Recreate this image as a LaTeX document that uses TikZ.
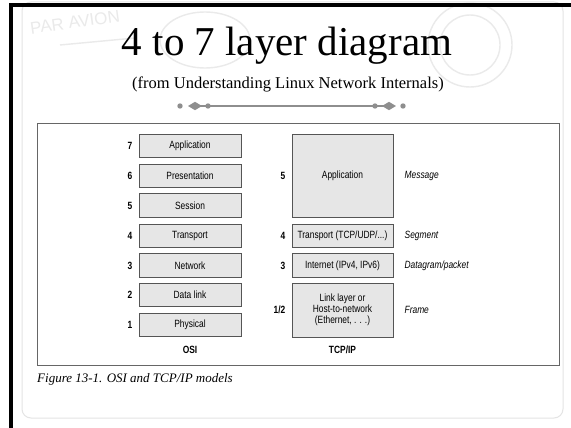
\documentclass[tikz,border=0pt]{standalone}
\usepackage{fontspec}
\setmainfont{Liberation Serif}
\newfontfamily\condsans[FakeStretch=0.8]{Liberation Sans}
\newfontfamily\stampfont{Liberation Sans}
\usetikzlibrary{shapes.geometric}

\definecolor{boxfill}{HTML}{E6E6E6}
\definecolor{boxline}{HTML}{555555}
\definecolor{framegray}{HTML}{666666}
\definecolor{ornament}{HTML}{8E8E8E}
\definecolor{pagegray}{HTML}{E4E4E4}
\definecolor{stampgray}{HTML}{EAEAEA}

\tikzset{
  layer/.style={draw=boxline, fill=boxfill, line width=0.9pt,
    minimum width=102pt, minimum height=23.5pt, inner sep=1pt,
    align=center, font=\condsans\fontsize{10.5}{11}\selectfont},
  num/.style={anchor=east, inner sep=0pt, font=\condsans\bfseries\fontsize{10.5}{11}\selectfont},
  unit/.style={anchor=west, inner sep=0pt, font=\condsans\itshape\fontsize{10.5}{11}\selectfont},
  model/.style={inner sep=0pt, font=\condsans\bfseries\fontsize{10.5}{11}\selectfont},
  dot/.style={circle, fill=ornament, inner sep=0pt, minimum size=5.4pt},
  gem/.style={diamond, fill=ornament, inner sep=0pt, minimum width=14pt, minimum height=8.5pt},
  stamp/.style={stampgray, line width=1.4pt},
}

\begin{document}
\begin{tikzpicture}[x=1pt, y=-1pt]
  \useasboundingbox (0,0) rectangle (571,428);
  \fill[white] (0,0) rectangle (571,428);

  % faint airmail postmarks behind the heading
  \node[stampgray, rotate=8, inner sep=0pt, font=\stampfont\fontsize{17}{17}\selectfont] (parav) at (75,22) {PAR AVION};
  \draw[stamp] (470,45) circle[radius=42pt];
  \draw[stamp] (470,45) circle[radius=30pt];
  \draw[stamp] (205,40) ellipse[x radius=45pt, y radius=28pt];
  \draw[stamp] (60,45) -- (135,38);

  % slide page outline and dark border
  \draw[pagegray, line width=1pt, rounded corners=9pt] (22,2) rectangle (563,418);
  \fill[black] (9,3) rectangle (571,7);
  \fill[black] (9,3) rectangle (13,428);

  % heading
  \node[inner sep=0pt, font=\fontsize{41}{45}\selectfont] (title) at (287,46) {4 to 7 layer diagram};
  \node[inner sep=0pt, font=\fontsize{16.5}{20}\selectfont] (subtitle) at (288,84) {(from Understanding Linux Network Internals)};

  % ornament rule under the heading
  \draw[ornament, line width=1.3pt] (195,106) -- (389,106);
  \node[dot] (o1) at (180,106) {};
  \node[gem] (o2) at (195,106) {};
  \node[dot] (o3) at (208,106) {};
  \node[dot] (o4) at (375,106) {};
  \node[gem] (o5) at (389,106) {};
  \node[dot] (o6) at (403,106) {};

  % figure frame
  \draw[framegray, line width=1pt] (37,124) rectangle (559,365);

  % OSI stack
  \node[layer] (osi7) at (190,146)   {Application};
  \node[layer] (osi6) at (190,176)   {Presentation};
  \node[layer] (osi5) at (190,205.5) {Session};
  \node[layer] (osi4) at (190,236)   {Transport};
  \node[layer] (osi3) at (190,265.5) {Network};
  \node[layer] (osi2) at (190,295)   {Data link};
  \node[layer] (osi1) at (190,325)   {Physical};
  \foreach \n in {1,...,7} {
    \node[num] (osinum\n) at ([xshift=-6pt]osi\n.west) {\n};
  }
  \node[model] (osilabel) at (190,350) {OSI};

  % TCP/IP stack
  \node[layer, minimum width=101pt, minimum height=83pt] (tcp5) at (342.5,175.5) {Application};
  \node[layer, minimum width=101pt] (tcp4) at (342.5,236) {Transport (TCP/UDP/...)};
  \node[layer, minimum width=101pt] (tcp3) at (342.5,265.5) {Internet (IPv4, IPv6)};
  \node[layer, minimum width=101pt, minimum height=54pt] (tcp1) at (342.5,310)
    {Link layer or\\Host-to-network\\(Ethernet, . . .)};
  \node[num] (tcpnum5) at ([xshift=-6pt]tcp5.west) {5};
  \node[num] (tcpnum4) at ([xshift=-6pt]tcp4.west) {4};
  \node[num] (tcpnum3) at ([xshift=-6pt]tcp3.west) {3};
  \node[num] (tcpnum1) at ([xshift=-6pt]tcp1.west) {1/2};
  \node[model] (tcplabel) at (342.5,350) {TCP/IP};

  % data unit names
  \node[unit] (u5) at ([xshift=11pt]tcp5.east) {Message};
  \node[unit] (u4) at ([xshift=11pt]tcp4.east) {Segment};
  \node[unit] (u3) at ([xshift=11pt]tcp3.east) {Datagram/packet};
  \node[unit] (u1) at ([xshift=11pt]tcp1.east) {Frame};

  % caption
  \node[anchor=west, inner sep=0pt, font=\itshape\fontsize{13}{15}\selectfont] (caption) at (37,379)
    {Figure 13-1. OSI and TCP/IP models};
\end{tikzpicture}
\end{document}
